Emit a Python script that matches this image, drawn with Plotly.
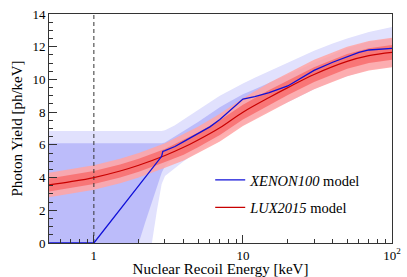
import plotly.graph_objects as go

# ---------------- data ----------------
# XENON100 model (blue line)
xe_E = [0.5, 1.0, 2.85, 2.9, 3.0, 3.2, 3.5, 4, 5, 6, 7, 8, 9, 10, 12, 15, 20, 25, 30, 40, 50, 60, 70, 80, 100]
xe_Y = [0, 0, 5.3, 5.6, 5.65, 5.75, 5.9, 6.2, 6.7, 7.1, 7.55, 8.0, 8.45, 8.8, 8.95, 9.2, 9.6, 10.1, 10.55, 11.05, 11.4, 11.65, 11.8, 11.85, 11.9]

# XENON100 bands (light = outer, dark = inner)
xb_E = [0.5, 1.0, 2.0, 2.2, 2.45, 2.65, 2.85, 3.0, 3.5, 4, 5, 6, 7, 8, 10, 12, 15, 20, 30, 40, 50, 70, 100]
xb_light_hi = [6.85, 6.85, 6.85, 6.85, 6.85, 6.85, 6.85, 6.9, 7.2, 7.55, 8.1, 8.6, 9.0, 9.3, 9.75, 10.1, 10.5, 11.0, 11.75, 12.2, 12.5, 12.9, 13.2]
xb_dark_hi = [6.1, 6.1, 6.1, 6.1, 6.1, 6.1, 6.1, 6.15, 6.5, 6.85, 7.4, 7.9, 8.3, 8.6, 9.1, 9.4, 9.8, 10.3, 11.0, 11.5, 11.9, 12.3, 12.5]
xb_dark_lo = [0, 0, 0, 1.2, 2.5, 3.4, 4.3, 4.7, 5.3, 5.7, 6.3, 6.8, 7.2, 7.5, 8.0, 8.4, 8.8, 9.3, 10.0, 10.5, 10.8, 11.2, 11.4]
xb_light_lo = [0, 0, 0, 0, 0, 2.0, 3.6, 4.1, 4.6, 5.0, 5.6, 6.1, 6.5, 6.8, 7.2, 7.6, 8.1, 8.6, 9.4, 9.9, 10.2, 10.6, 10.8]

# LUX2015 model (red line and bands)
lux_E = [0.5, 0.7, 1, 1.5, 2, 3, 4, 5, 7, 10, 15, 20, 30, 50, 70, 100]
lux_Y = [3.55, 3.75, 4.0, 4.4, 4.75, 5.35, 5.85, 6.3, 7.05, 8.0, 8.9, 9.5, 10.3, 11.1, 11.45, 11.65]
lux_in_hi = [3.95, 4.15, 4.4, 4.8, 5.15, 5.75, 6.3, 6.75, 7.5, 8.45, 9.35, 9.95, 10.75, 11.55, 11.9, 12.1]
lux_in_lo = [3.15, 3.35, 3.6, 4.0, 4.35, 4.95, 5.4, 5.85, 6.6, 7.55, 8.45, 9.05, 9.85, 10.65, 11.0, 11.2]
lux_out_hi = [4.3, 4.5, 4.75, 5.15, 5.5, 6.1, 6.65, 7.1, 7.9, 8.85, 9.8, 10.4, 11.2, 12.0, 12.35, 12.55]
lux_out_lo = [2.8, 3.0, 3.25, 3.65, 4.0, 4.6, 5.05, 5.5, 6.2, 7.15, 8.0, 8.6, 9.4, 10.2, 10.55, 10.75]

# threshold marker
thr_E = [1, 1]
thr_Y = [0, 14]

x_tickvals = [1, 10, 100]
x_ticktext = ["1", "10", "10<sup>2</sup>"]
x_minor = [0.6, 0.7, 0.8, 0.9, 2, 3, 4, 5, 6, 7, 8, 9, 20, 30, 40, 50, 60, 70, 80, 90]

# ---------------- figure ----------------
FONT = "Liberation Serif"
fig = go.Figure()

def band(xs, lo, hi, color):
    fig.add_trace(go.Scatter(x=xs, y=lo, mode="lines", line=dict(width=0, color=color),
                             showlegend=False, hoverinfo="skip"))
    fig.add_trace(go.Scatter(x=xs, y=hi, mode="lines", line=dict(width=0, color=color),
                             fill="tonexty", fillcolor=color, showlegend=False, hoverinfo="skip"))

band(xb_E, xb_light_lo, xb_light_hi, "#e1e1fd")
band(xb_E, xb_dark_lo, xb_dark_hi, "#bcbcfa")
band(lux_E, lux_out_lo, lux_out_hi, "rgba(255,165,165,0.88)")
band(lux_E, lux_in_lo, lux_in_hi, "rgba(248,110,110,0.88)")

fig.add_trace(go.Scatter(x=thr_E, y=thr_Y, mode="lines",
                         line=dict(color="#333333", width=1, dash="4px,3px"),
                         showlegend=False, hoverinfo="skip"))

fig.add_trace(go.Scatter(x=lux_E, y=lux_Y, mode="lines", line=dict(color="#c80000", width=1.2, shape="spline"),
                         name="<i>LUX2015</i> model", legend="legend2"))
fig.add_trace(go.Scatter(x=xe_E, y=xe_Y, mode="lines", line=dict(color="#1010d8", width=1.3),
                         name="<i>XENON100</i> model", legend="legend"))

# minor ticks on the log axis, drawn by a hidden overlaying axis
fig.add_trace(go.Scatter(x=[0.5, 100], y=[0, 0], mode="lines", line=dict(width=0),
                         xaxis="x2", showlegend=False, hoverinfo="skip"))

fig.update_layout(
    width=407, height=277,
    margin=dict(l=49, r=15, t=14, b=34, autoexpand=False),
    paper_bgcolor="white", plot_bgcolor="white",
    font=dict(family=FONT, size=13, color="black"),
    legend=dict(x=0.47, y=0.345, xanchor="left", yanchor="top", bgcolor="rgba(0,0,0,0)",
                font=dict(family=FONT, size=14.5), itemwidth=30),
    legend2=dict(x=0.47, y=0.225, xanchor="left", yanchor="top", bgcolor="rgba(0,0,0,0)",
                 font=dict(family=FONT, size=14.5), itemwidth=30),
    xaxis=dict(type="log", range=[-0.30103, 2], tickvals=x_tickvals, ticktext=x_ticktext,
               ticks="inside", ticklen=8, tickcolor="#333", showline=True, linecolor="#333",
               linewidth=1, mirror=True, showgrid=False, zeroline=False, automargin=False,
               title=dict(text="Nuclear Recoil Energy [keV]", font=dict(family=FONT, size=15), standoff=3),
               tickfont=dict(family=FONT, size=13)),
    xaxis2=dict(type="log", range=[-0.30103, 2], overlaying="x", anchor="y", side="bottom",
                tickvals=x_minor, ticks="inside", ticklen=4, tickcolor="#333",
                showticklabels=False, showgrid=False, zeroline=False, showline=False, automargin=False),
    yaxis=dict(range=[0, 14], dtick=2, ticks="inside", ticklen=8, tickcolor="#333",
               showline=True, linecolor="#333", linewidth=1, mirror=True, showgrid=False,
               zeroline=False, automargin=False,
               minor=dict(ticks="inside", ticklen=4, dtick=0.5, tickcolor="#333", showgrid=False),
               title=dict(text="Photon Yield [ph/keV]", font=dict(family=FONT, size=15), standoff=6),
               tickfont=dict(family=FONT, size=13)),
)

fig.write_html("out.html", config={"responsive": False, "displayModeBar": False},
               post_script="document.body.style.margin='0';document.body.style.padding='0';")
